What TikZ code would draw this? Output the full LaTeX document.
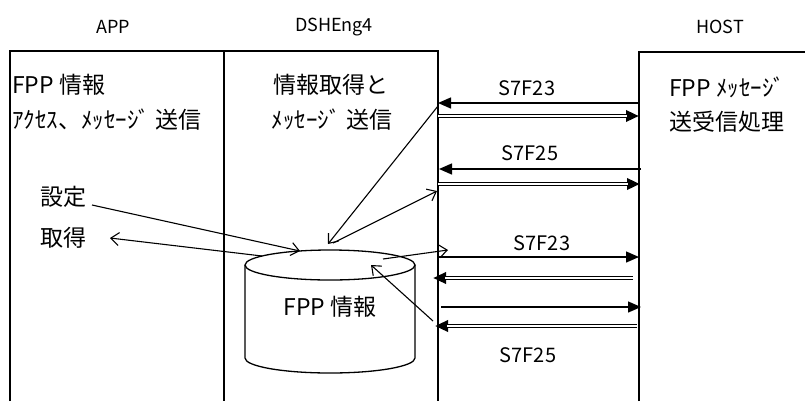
\documentclass[tikz,border=0pt]{standalone}
\usepackage{fontspec}
\setmainfont{Noto Sans CJK JP}
\usetikzlibrary{arrows.meta}
\begin{document}
\begin{tikzpicture}[x=1bp,y=-1bp,
  lane/.style={line width=1.3bp},
  lbl/.style={font=\fontsize{18bp}{21bp}\selectfont, inner sep=0pt},
  txt/.style={font=\fontsize{23bp}{27bp}\selectfont, inner sep=0pt},
  msg/.style={font=\fontsize{20bp}{24bp}\selectfont, inner sep=0pt},
  sgl/.style={line width=1.4bp, -{Triangle[length=13bp,width=11bp]}},
  dblo/.style={line width=4bp, -{Triangle[length=13bp,width=11bp]}},
  dbli/.style={line width=2bp, white, shorten >=12bp},
  openarr/.style={line width=1.1bp, -{Straight Barb[length=8bp,width=13bp]}}
]
\useasboundingbox (0,0) rectangle (805,401);

% lanes
\coordinate (appBL) at (10,401);
\coordinate (appTL) at (10,51);
\coordinate (dshTR) at (438,51);
\coordinate (dshBR) at (438,401);
\coordinate (midT) at (224,51);
\coordinate (midB) at (224,401);
\coordinate (hostBL) at (639,401);
\coordinate (hostTL) at (639,52);
\coordinate (hostTR) at (805,52);
\draw[lane] (appBL) -- (appTL) -- (dshTR) -- (dshBR);
\draw[lane] (midT) -- (midB);
\draw[lane] (hostBL) -- (hostTL) -- (hostTR);

% headers
\node[lbl] (app) at (113,27) {APP};
\node[lbl] (dsh) at (334,27) {DSHEng4};
\node[lbl] (host) at (720,27) {HOST};

% box texts
\node[txt, anchor=west] (app1) at (12,85) {FPP 情報};
\node[txt, anchor=west] (app2) at (12,120) {ｱｸｾｽ、ﾒｯｾｰｼﾞ 送信};
\node[txt] (dsh1) at (331,85) {情報取得と};
\node[txt] (dsh2) at (332,120) {ﾒｯｾｰｼﾞ 送信};
\node[txt, anchor=west] (host1) at (669,87) {FPP ﾒｯｾｰｼﾞ};
\node[txt, anchor=west] (host2) at (669,122) {送受信処理};
\node[txt, anchor=west] (set) at (40,197) {設定};
\node[txt, anchor=west] (get) at (40,238) {取得};

% cylinder
\coordinate (cylT) at (330,265);
\coordinate (cylL) at (245,265);
\coordinate (cylLB) at (245,358);
\coordinate (cylR) at (415,265);
\draw[lane] (cylT) ellipse [x radius=85bp, y radius=15bp];
\draw[lane] (cylL) -- (cylLB) arc[start angle=180, end angle=360, x radius=85bp, y radius=15bp] -- (cylR);
\node[txt] (cyl) at (330,307) {FPP 情報};

% message labels
\node[msg] (m1) at (527,88) {S7F23};
\node[msg] (m2) at (530,153) {S7F25};
\node[msg] (m3) at (542,243) {S7F23};
\node[msg] (m4) at (528,355) {S7F25};

% message arrows (top group)
\coordinate (a1s) at (639,103); \coordinate (a1e) at (438,103);
\coordinate (a2s) at (438,116); \coordinate (a2e) at (639,116);
\coordinate (a3s) at (641,169); \coordinate (a3e) at (439,169);
\coordinate (a4s) at (438,184); \coordinate (a4e) at (640,184);
\draw[sgl] (a1s) -- (a1e);
\draw[dblo] (a2s) -- (a2e); \draw[dbli] (a2s) -- (a2e);
\draw[sgl] (a3s) -- (a3e);
\draw[dblo] (a4s) -- (a4e); \draw[dbli] (a4s) -- (a4e);

% message arrows (bottom group)
\coordinate (a5s) at (438,257); \coordinate (a5e) at (639,257);
\coordinate (a6s) at (633,278); \coordinate (a6e) at (433,278);
\coordinate (a7s) at (441,307); \coordinate (a7e) at (641,307);
\coordinate (a8s) at (637,326); \coordinate (a8e) at (435,326);
\draw[sgl] (a5s) -- (a5e);
\draw[dblo] (a6s) -- (a6e); \draw[dbli] (a6s) -- (a6e);
\draw[sgl] (a7s) -- (a7e);
\draw[dblo] (a8s) -- (a8e); \draw[dbli] (a8s) -- (a8e);

% open arrows around the database
\coordinate (b1s) at (438,106); \coordinate (b1e) at (328,244);
\coordinate (b2s) at (333,243); \coordinate (b2e) at (437,191);
\coordinate (b3s) at (92,205);  \coordinate (b3e) at (300,251);
\coordinate (b4s) at (262,256); \coordinate (b4e) at (110,238);
\coordinate (b5s) at (383,259); \coordinate (b5e) at (448,250);
\coordinate (b6s) at (433,321); \coordinate (b6e) at (371,265);
\draw[openarr] (b1s) -- (b1e);
\draw[openarr] (b2s) -- (b2e);
\draw[openarr] (b3s) -- (b3e);
\draw[openarr] (b4s) -- (b4e);
\draw[openarr] (b5s) -- (b5e);
\draw[openarr] (b6s) -- (b6e);
\end{tikzpicture}
\end{document}
